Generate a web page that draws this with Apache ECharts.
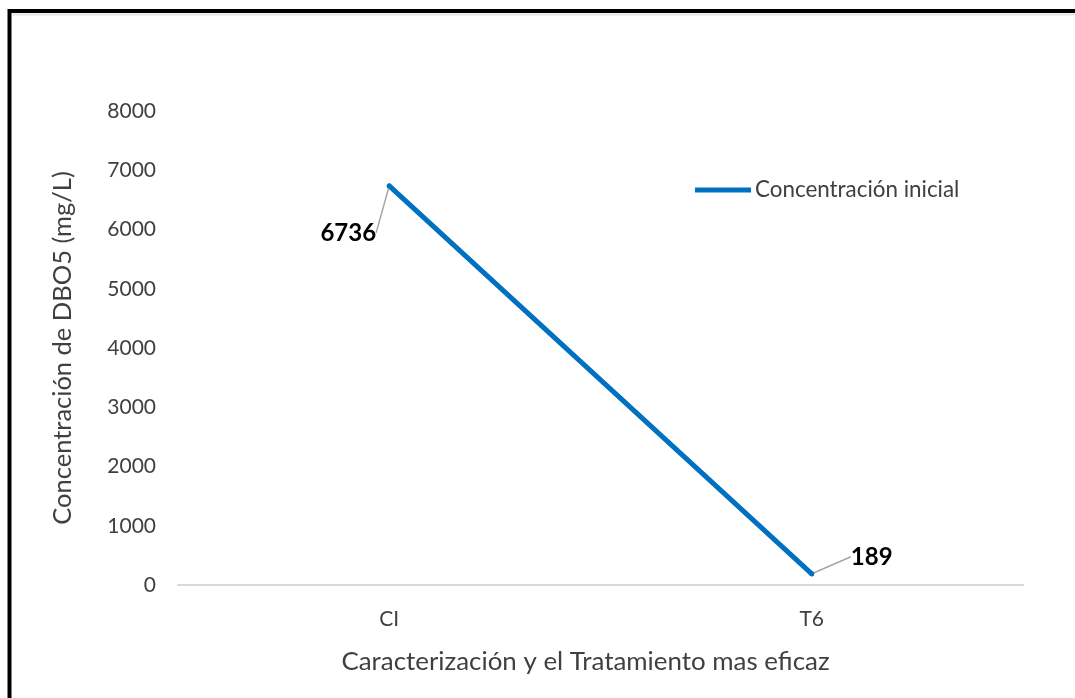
<!DOCTYPE html>
<html>
<head>
<meta charset="utf-8">
<script src="https://cdn.jsdelivr.net/npm/echarts@6/dist/echarts.min.js"></script>
<style>
  html, body { margin: 0; padding: 0; background: #ffffff; }
  #chart { width: 1075px; height: 698px; }
</style>
</head>
<body>
<div id="chart"></div>
<script>
// Categories and DBO5 values (mg/L)
const categories = ['CI', 'T6'];
const concentracionInicial = [6736, 189];
const yTicks = { min: 0, max: 8000, interval: 1000 };

const seriesName = 'Concentración inicial';
const xTitle = 'Caracterización y el Tratamiento mas eficaz';
const yTitle = 'Concentración de DBO5 (mg/L)';

// Offsets of each data label from its point (label moved away, with a leader line)
const labelOffsets = [[-41, 47], [60, -17]];

const FONT = 'Lato';
const TEXT = '#404040';

const chart = echarts.init(document.getElementById('chart'), null, { renderer: 'canvas' });

chart.setOption({
  backgroundColor: '#ffffff',
  animation: false,
  textStyle: { fontFamily: FONT },
  graphic: [
    // outer frame (top and left edges visible)
    {
      type: 'rect',
      shape: { x: 9.5, y: 11, width: 1100, height: 720 },
      style: { fill: 'none', stroke: '#000000', lineWidth: 4 },
      z: 100
    },
    {
      type: 'line',
      shape: { x1: 12, y1: 14.5, x2: 1075, y2: 14.5 },
      style: { stroke: '#e6e6e6', lineWidth: 2 },
      z: 99
    }
  ],
  grid: { left: 178, right: 52, top: 111, bottom: 113 },
  legend: {
    data: [seriesName],
    left: 695,
    top: 179,
    padding: 0,
    icon: 'rect',
    itemWidth: 56,
    itemHeight: 5,
    itemGap: 4,
    textStyle: { color: TEXT, fontSize: 22.4, fontFamily: FONT, padding: [0, 0, 0, -1] }
  },
  xAxis: {
    type: 'category',
    data: categories,
    boundaryGap: true,
    axisLine: { show: true, lineStyle: { color: '#d9d9d9', width: 2 } },
    axisTick: { show: false },
    axisLabel: { color: TEXT, fontSize: 21, margin: 24 },
    name: xTitle,
    nameLocation: 'middle',
    nameGap: 64,
    nameTextStyle: { color: TEXT, fontSize: 25.9, padding: [0, 30, 0, 0] }
  },
  yAxis: {
    type: 'value',
    min: yTicks.min,
    max: yTicks.max,
    interval: yTicks.interval,
    axisLine: { show: false },
    axisTick: { show: false },
    splitLine: { show: false },
    axisLabel: { color: TEXT, fontSize: 21, margin: 22, formatter: (v) => String(v) },
    name: yTitle,
    nameLocation: 'middle',
    nameGap: 98,
    nameRotate: 90,
    nameTextStyle: { color: TEXT, fontSize: 25.5, padding: [0, 0, 4, 0] }
  },
  series: [
    {
      name: seriesName,
      type: 'line',
      data: concentracionInicial,
      symbol: 'circle',
      symbolSize: 5,
      showSymbol: true,
      lineStyle: { color: '#0070C0', width: 5, cap: 'round' },
      itemStyle: { color: '#0070C0' },
      label: {
        show: true,
        position: 'inside',
        color: '#000000',
        fontSize: 24,
        fontWeight: 'bold',
        fontFamily: FONT
      },
      labelLine: {
        show: true,
        lineStyle: { color: '#a6a6a6', width: 1.5 }
      },
      labelLayout: function (params) {
        const o = labelOffsets[params.dataIndex] || [0, 0];
        return { dx: o[0], dy: o[1] };
      }
    }
  ]
});
</script>
</body>
</html>
